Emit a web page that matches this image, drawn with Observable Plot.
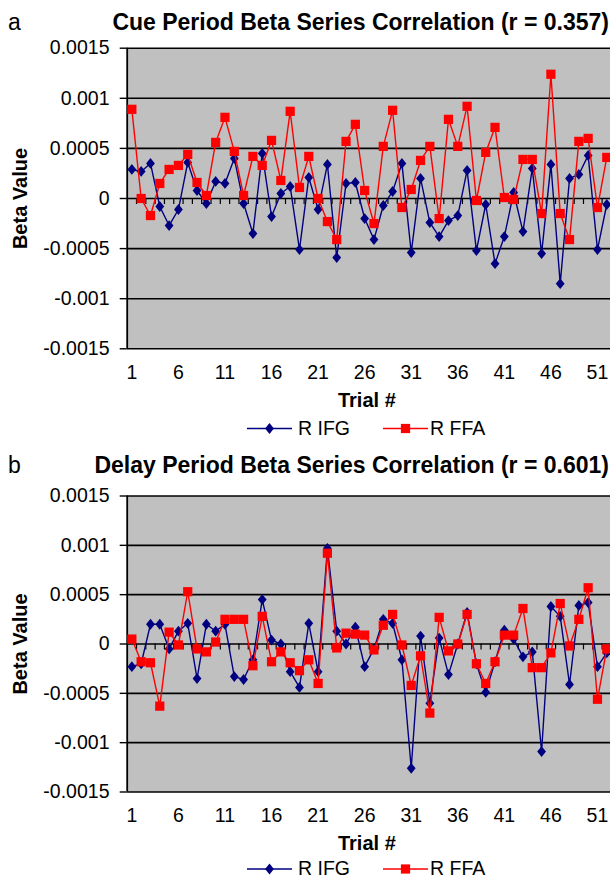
<!DOCTYPE html>
<html><head><meta charset="utf-8">
<script src="https://cdn.jsdelivr.net/npm/d3@7"></script>
<script src="https://cdn.jsdelivr.net/npm/@observablehq/plot@0.6"></script>
<style>
body{margin:0;background:#fff;}
#wrap{position:relative;width:610px;height:880px;overflow:hidden;font-family:"Liberation Sans",Arial,sans-serif;}
#wrap > svg{position:absolute;left:0;}
</style></head><body><div id="wrap"></div>
<script>
const trialTicks = [1,6,11,16,21,26,31,36,41,46,51];
const yTicks = [-0.0015,-0.001,-0.0005,0,0.0005,0.001,0.0015];
const seriesNames = ["R IFG","R FFA"];
const seriesColors = ["#000080","#ff0000"];
const titles = ["Cue Period Beta Series Correlation (r = 0.357)","Delay Period Beta Series Correlation (r = 0.601)"];
const panelLetters = ["a","b"];
const xLabel = "Trial #";
const yLabel = "Beta Value";

const cueIFG = [0.00029,0.00027,0.00035,-0.00008,-0.00027,-0.00011,0.00036,0.00008,-0.00005,0.00017,
 0.00015,0.0004,-0.00005,-0.00035,0.00045,-0.00018,0.00005,0.00012,-0.00051,0.00021,
 -0.00011,0.00034,-0.00059,0.00015,0.00016,-0.0002,-0.00041,-0.00007,0.00007,0.00035,
 -0.00054,0.0002,-0.00024,-0.00038,-0.00022,-0.00017,0.00028,-0.00052,-0.00006,-0.00065,
 -0.00038,0.00006,-0.00033,0.0003,-0.00055,0.00034,-0.00085,0.0002,0.00024,0.00043,
 -0.00051,-0.00006];
const cueFFA = [0.00089,0,-0.00017,0.00015,0.00029,0.00033,0.00044,0.00016,0.00003,0.00056,
 0.00081,0.00047,0.00003,0.00042,0.00033,0.00058,0.00018,0.00087,0.00011,0.00042,
 0,-0.00023,-0.00041,0.00057,0.00074,0.00008,-0.00025,0.00052,0.00088,-0.00009,
 0.00009,0.00038,0.00052,-0.0002,0.00079,0.00052,0.00092,-0.00002,0.00046,0.00071,
 0.00001,-0.00001,0.00039,0.00039,-0.00015,0.00124,-0.00015,-0.00041,0.00057,0.0006,
 -0.00009,0.00041];
const delayIFG = [-0.00023,-0.0002,0.0002,0.0002,-0.00005,0.00013,0.00021,-0.00035,0.0002,0.00013,
 0.0002,-0.00033,-0.00036,-0.00016,0.00045,0.00004,0,-0.00028,-0.00044,0.00021,
 -0.00028,0.00097,0.00013,0,0.00017,-0.00023,-0.00005,0.00025,0.00021,-0.00016,
 -0.00126,0.00008,-0.0006,0.00006,-0.00031,0,0.00032,-0.0002,-0.00049,-0.00018,
 0.00014,0.00005,-0.00013,-0.00008,-0.00109,0.00038,0.00028,-0.00041,0.00039,0.00042,
 -0.00023,-0.00009];
const delayFFA = [0.00005,-0.00018,-0.00019,-0.00063,0.00012,-0.00001,0.00053,-0.00005,-0.00008,0.00002,
 0.00025,0.00025,0.00025,-0.00022,0.00028,-0.00018,-0.00008,-0.00019,-0.00027,-0.00016,
 -0.0004,0.00092,-0.00004,0.00011,0.0001,0.00009,-0.00006,0.00019,0.0003,-0.00001,
 -0.00042,-0.00012,-0.0007,0.00027,-0.00007,0,0.0003,-0.0002,-0.0004,-0.00018,
 0.00009,0.00009,0.00036,-0.00024,-0.00024,-0.00009,0.00041,-0.00002,0.00025,0.00057,
 -0.00056,-0.00005];

const FONT = '"Liberation Sans", Arial, sans-serif';
const diamondSym = {draw(ctx, size){const r=Math.sqrt(size/Math.PI);const w=r*1.1,h=r*1.35;
  ctx.moveTo(0,-h);ctx.lineTo(w,0);ctx.lineTo(0,h);ctx.lineTo(-w,0);ctx.closePath();}};
const squareSym = {draw(ctx, size){const r=Math.sqrt(size/Math.PI);const s=r*1.1;ctx.rect(-s,-s,2*s,2*s);}};

function toRows(values){return values.map((v,i)=>({trial:i+1,value:v}));}

function panel(ifg, ffa, top, mt, mb){
  const a = toRows(ifg), b = toRows(ffa);
  const bounds = a.map(d=>d.trial+0.5);
  const svg = Plot.plot({
    width:610, height:440, marginLeft:126.7, marginRight:0, marginTop:mt, marginBottom:mb,
    style:{fontFamily:FONT, fontSize:"19.5px", color:"#000", background:"transparent", overflow:"visible"},
    x:{type:"linear", domain:[0.5,52.4]},
    y:{domain:[-0.0015,0.0015]},
    marks:[
      Plot.frame({fill:"#c0c0c0", stroke:null}),
      Plot.ruleY(yTicks,{stroke:"#000",strokeWidth:1.6}),
      Plot.ruleX(bounds,{y1:0,y2:-0.00006,stroke:"#000",strokeWidth:1.2}),
      Plot.axisY({ticks:yTicks, tickSize:7, tickPadding:10.7, tickFormat:d=>String(d), label:null, strokeWidth:1.4}),
      Plot.axisX({ticks:trialTicks, tickSize:0, tickPadding:16, tickFormat:d=>String(d), label:null}),
      Plot.ruleX([0.5],{stroke:"#000",strokeWidth:1.8}),
      Plot.line(a,{x:"trial",y:"value",stroke:seriesColors[0],strokeWidth:1.4}),
      Plot.dot(a,{x:"trial",y:"value",r:4,symbol:diamondSym,fill:seriesColors[0],stroke:null}),
      Plot.line(b,{x:"trial",y:"value",stroke:seriesColors[1],strokeWidth:1.4}),
      Plot.dot(b,{x:"trial",y:"value",r:4.2,symbol:squareSym,fill:seriesColors[1],stroke:null}),
      Plot.text([yLabel],{text:d=>d,frameAnchor:"left",dx:-107,rotate:-90,textAnchor:"middle",lineAnchor:"middle",fontWeight:"bold",fontSize:20}),
      Plot.text([xLabel],{text:d=>d,frameAnchor:"bottom",dy:52,dx:-2,textAnchor:"middle",lineAnchor:"middle",fontWeight:"bold",fontSize:20})
    ]
  });
  svg.style.top = top+"px";
  return svg;
}

const wrap = document.getElementById("wrap");
wrap.appendChild(panel(cueIFG, cueFFA, 0, 47.7, 91.7));
wrap.appendChild(panel(delayIFG, delayFFA, 440, 55.5, 88.5));

// overlay: panel letters, titles, legends
const ov = d3.select(wrap).append("svg").attr("width",610).attr("height",880)
  .style("top","0px").style("font-family",FONT);
const layout = [{base:30, legLine:428.5, legText:434.5},{base:473, legText:875, legLine:869}];
layout.forEach((L,i)=>{
  ov.append("text").attr("x",8).attr("y",L.base).attr("font-size",23).text(panelLetters[i]);
  ov.append("text").attr("x",609).attr("y",L.base).attr("text-anchor","end")
    .attr("font-size",23).attr("font-weight","bold").text(titles[i]);
  const items = [{x0:247,x1:292,tx:298,sym:diamondSym,r:4},{x0:383,x1:428,tx:430,sym:squareSym,r:4.2}];
  items.forEach((it,k)=>{
    ov.append("line").attr("x1",it.x0).attr("x2",it.x1).attr("y1",L.legLine).attr("y2",L.legLine)
      .attr("stroke",seriesColors[k]).attr("stroke-width",1.5);
    ov.append("path").attr("transform",`translate(${(it.x0+it.x1)/2},${L.legLine})`)
      .attr("d",d3.symbol(it.sym, Math.PI*it.r*it.r)()).attr("fill",seriesColors[k]);
    ov.append("text").attr("x",it.tx).attr("y",L.legText).attr("font-size",19.5).text(seriesNames[k]);
  });
});
</script></body></html>
